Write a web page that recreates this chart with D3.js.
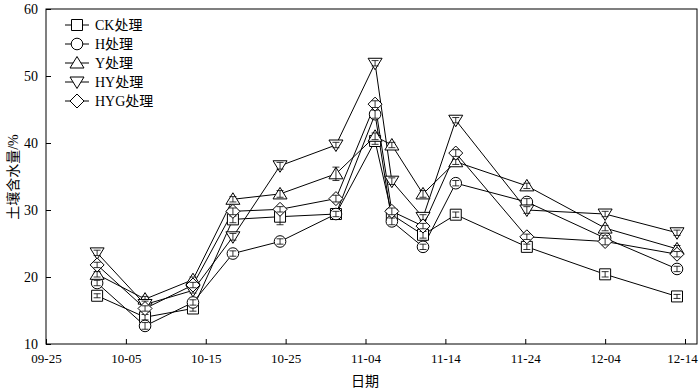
<!DOCTYPE html>
<html><head><meta charset="utf-8">
<script src="https://cdn.jsdelivr.net/npm/d3@7"></script>
<style>body{margin:0;background:#fff}</style>
</head><body>
<svg id="c" width="700" height="390"></svg>
<script>
// day offsets from 09-25
const days = [6.4, 12.4, 18.4, 23.4, 29.3, 36.3, 41.2, 43.3, 47.2, 51.3, 60.2, 70, 79];
const tickDays = [0, 10, 20, 30, 40, 50, 60, 70, 80];
const tickLabels = ["09-25","10-05","10-15","10-25","11-04","11-14","11-24","12-04","12-14"];
const yTicks = [10, 20, 30, 40, 50, 60];
const seriesNames = ["CK处理","H处理","Y处理","HY处理","HYG处理"];
const CK  = [17.2, 14.0, 15.3, 28.6, 29.0, 29.4, 40.3, 29.3, 26.3, 29.3, 24.5, 20.4, 17.1];
const H   = [19.1, 12.7, 16.2, 23.5, 25.3, 29.4, 44.3, 28.3, 24.5, 34.0, 31.2, 25.8, 21.2];
const Y   = [20.4, 16.7, 19.6, 31.6, 32.4, 35.4, 41.0, 39.7, 32.4, 37.2, 33.6, 27.3, 24.2];
const HY  = [23.6, 15.9, 18.0, 26.0, 36.6, 39.7, 51.9, 34.3, 28.9, 43.4, 30.0, 29.4, 26.6];
const HYG = [21.8, 15.3, 18.8, 29.8, 30.1, 31.7, 45.8, 29.8, 27.6, 38.5, 26.0, 25.3, 23.4];
const errCK  = [0.3, 0.4, 0.4, 0.5, 1.2, 0.4, 0.5, 0.6, 0.5, 0.4, 0.4, 0.4, 0.3];
const errH   = [0.4, 0.5, 0.4, 0.4, 0.4, 0.4, 0.6, 0.5, 0.4, 0.4, 0.5, 0.4, 0.4];
const errY   = [0.4, 0.4, 0.4, 0.4, 0.5, 1.0, 0.5, 0.4, 0.5, 0.4, 0.4, 0.4, 0.5];
const errHY  = [0.4, 0.5, 0.4, 0.5, 0.5, 0.4, 0.4, 0.5, 0.4, 0.4, 0.5, 0.4, 0.4];
const errHYG = [0.4, 0.4, 0.4, 0.5, 0.4, 0.5, 0.5, 0.5, 0.4, 0.5, 0.4, 0.5, 0.4];

const data = [CK, H, Y, HY, HYG];
const errs = [errCK, errH, errY, errHY, errHYG];
const shapes = ["square","circle","up","down","diamond"];

const svg = d3.select("#c");
const L = 46, R = 697, T = 9, B = 344;
const x = d3.scaleLinear().domain([0, 80]).range([L, 685]);
const y = d3.scaleLinear().domain([10, 60]).range([B, T]);
const font = "'Liberation Serif','Times New Roman','Noto Sans CJK SC',serif";

function markerPath(s) {
  if (s === "square") return "M-5.5,-5.5H5.5V5.5H-5.5Z";
  if (s === "circle") return "M5.8,0A5.8,5.8 0 1,1 -5.8,0A5.8,5.8 0 1,1 5.8,0Z";
  if (s === "up") return "M0,-6.5L7,5L-7,5Z";
  if (s === "down") return "M0,6.5L7,-5L-7,-5Z";
  if (s === "diamond") return "M0,-7L7,0L0,7L-7,0Z";
}

// frame
svg.append("rect").attr("x", L).attr("y", T).attr("width", R - L).attr("height", B - T)
  .attr("fill", "none").attr("stroke", "#000").attr("stroke-width", 1);

// axes
const xAxis = d3.axisBottom(x).tickValues(tickDays).tickFormat((d, i) => tickLabels[i])
  .tickSizeInner(-5).tickSizeOuter(0).tickPadding(10);
const gx = svg.append("g").attr("transform", `translate(0,${B})`).call(xAxis);
gx.select(".domain").remove();
gx.selectAll("text").attr("font-family", font).attr("font-size", 13).attr("fill", "#000");
gx.selectAll(".tick:last-of-type text").attr("dx", -3);

const yAxis = d3.axisLeft(y).tickValues(yTicks).tickSizeInner(-5).tickSizeOuter(0).tickPadding(8);
const gy = svg.append("g").attr("transform", `translate(${L},0)`).call(yAxis);
gy.select(".domain").remove();
gy.selectAll("text").attr("font-family", font).attr("font-size", 14).attr("fill", "#000");

// axis titles
svg.append("text").attr("x", 365).attr("y", 386).attr("text-anchor", "middle")
  .attr("font-family", font).attr("font-size", 14).text("日期");
svg.append("text").attr("transform", "translate(18,177) rotate(-90)").attr("text-anchor", "middle")
  .attr("font-family", font).attr("font-size", 14).text("土壤含水量/%");

// lines
const line = d3.line().x((d, i) => x(days[i])).y(d => y(d));
data.forEach(s => {
  svg.append("path").datum(s).attr("d", line).attr("fill", "none")
    .attr("stroke", "#000").attr("stroke-width", 1);
});

// markers + error bars
data.forEach((s, k) => {
  const g = svg.append("g");
  s.forEach((v, i) => {
    const cx = x(days[i]);
    g.append("path").attr("d", markerPath(shapes[k]))
      .attr("transform", `translate(${cx},${y(v)})`)
      .attr("fill", "#fff").attr("stroke", "#000").attr("stroke-width", 1);
    const e = errs[k][i];
    g.append("line").attr("x1", cx).attr("x2", cx).attr("y1", y(v - e)).attr("y2", y(v + e))
      .attr("stroke", "#000").attr("stroke-width", 0.8);
    [v - e, v + e].forEach(w => g.append("line").attr("x1", cx - 3.5).attr("x2", cx + 3.5)
      .attr("y1", y(w)).attr("y2", y(w)).attr("stroke", "#000").attr("stroke-width", 0.8));
  });
});

// legend
const legY0 = 25, legDy = 19;
seriesNames.forEach((n, k) => {
  const ly = legY0 + k * legDy;
  svg.append("line").attr("x1", 65).attr("x2", 89).attr("y1", ly).attr("y2", ly)
    .attr("stroke", "#000").attr("stroke-width", 1);
  svg.append("path").attr("d", markerPath(shapes[k])).attr("transform", `translate(77,${ly})`)
    .attr("fill", "#fff").attr("stroke", "#000").attr("stroke-width", 1);
  svg.append("text").attr("x", 95).attr("y", ly + 5).attr("font-family", font)
    .attr("font-size", 14).text(n);
});
</script>
</body></html>
